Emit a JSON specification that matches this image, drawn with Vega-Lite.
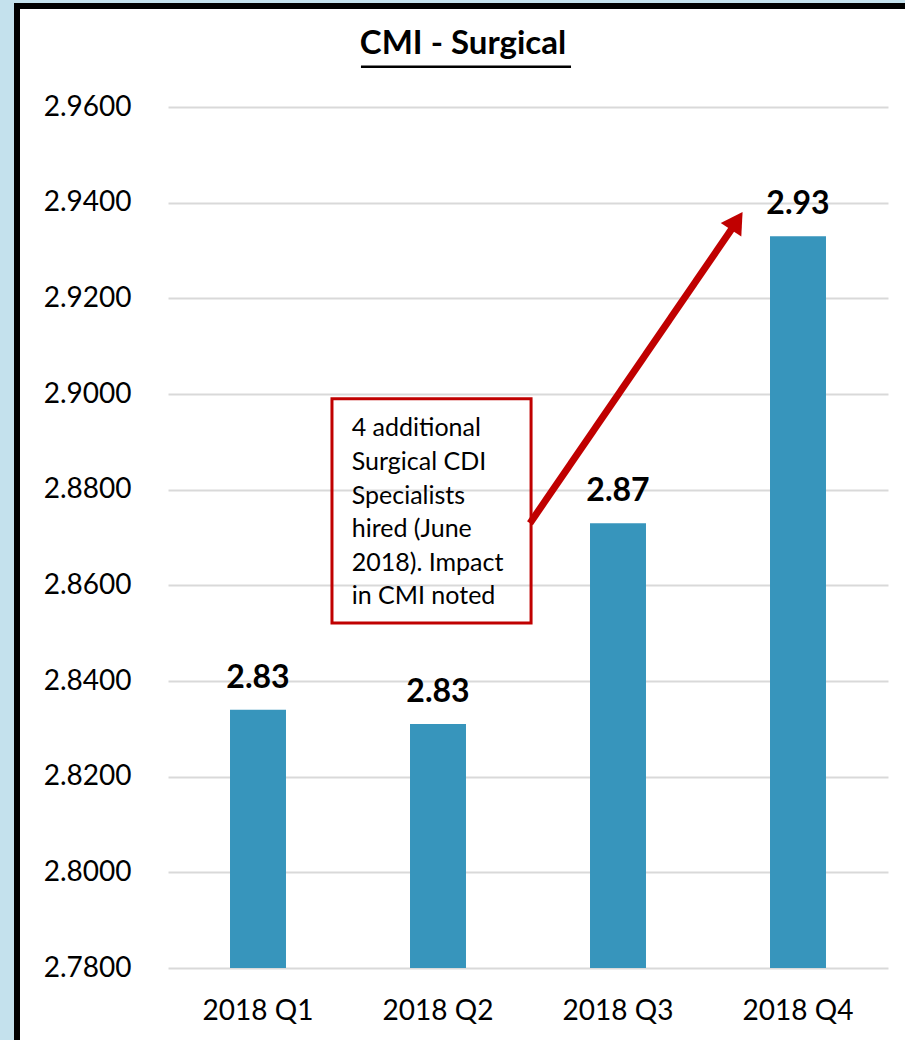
{
  "$schema": "https://vega.github.io/schema/vega-lite/v6.json",
  "autosize": {"type": "none"},
  "width": 892,
  "height": 1038,
  "padding": {"left": 17, "top": 6, "right": -4, "bottom": -4},
  "background": "#c4e1ed",
  "config": {
    "view": {"fill": "white", "stroke": "black", "strokeWidth": 6},
    "font": "Lato"
  },
  "title": {
    "text": "CMI - Surgical",
    "font": "Lato",
    "fontWeight": "bold",
    "fontSize": 33,
    "color": "black",
    "anchor": "middle",
    "frame": "group",
    "baseline": "alphabetic",
    "offset": -81
  },
  "datasets": {
    "bars": [
      {"q": "2018 Q1", "v": 2.834},
      {"q": "2018 Q2", "v": 2.831},
      {"q": "2018 Q3", "v": 2.873},
      {"q": "2018 Q4", "v": 2.933}
    ],
    "box": [{"x": 1.411, "x2": 2.517, "v": 2.899, "v2": 2.8521}],
    "arrow": [{"x": 2.511, "x2": 3.639, "v": 2.873, "v2": 2.9349}],
    "head": [{"x": 3.66, "v": 2.9362}],
    "note": [{"x": 1.5206, "v": 2.8953, "text": "4 additional\nSurgical CDI\nSpecialists\nhired (June\n2018). Impact\nin CMI noted"}],
    "underline": [{"x": 1.572, "x2": 2.739, "v": 2.9684}]
  },
  "resolve": {"scale": {"x": "independent"}},
  "encoding": {
    "y": {
      "field": "v",
      "type": "quantitative",
      "scale": {"domain": [2.78, 2.96], "range": [962, 101], "nice": false, "zero": false},
      "axis": {
        "title": null,
        "orient": "left",
        "offset": -114,
        "domain": false,
        "ticks": false,
        "tickSize": 0,
        "labelPadding": 0,
        "labelAlign": "right",
        "labelFont": "Lato",
        "labelFontSize": 28,
        "labelColor": "black",
        "labelBaseline": "middle",
        "values": [2.78, 2.80, 2.82, 2.84, 2.86, 2.88, 2.90, 2.92, 2.94, 2.96],
        "format": ".4f",
        "grid": true,
        "gridColor": "#d9d9d9",
        "gridWidth": 2
      }
    }
  },
  "layer": [
    {
      "data": {"name": "bars"},
      "mark": {"type": "bar", "color": "#3795bc"},
      "encoding": {
        "x": {
          "field": "q",
          "type": "nominal",
          "sort": null,
          "scale": {"range": [151, 871], "paddingInner": 0.689, "paddingOuter": 0.3445},
          "axis": {
            "title": null,
            "orient": "bottom",
            "offset": -76,
            "domain": false,
            "ticks": false,
            "tickSize": 0,
            "labelPadding": 51,
            "labelBaseline": "alphabetic",
            "labelFont": "Lato",
            "labelFontSize": 28,
            "labelColor": "black",
            "labelAngle": 0,
            "grid": false
          }
        },
        "y2": {"datum": 2.78}
      }
    },
    {
      "data": {"name": "bars"},
      "mark": {"type": "text", "font": "Lato", "fontWeight": "bold", "fontSize": 32, "color": "black", "baseline": "alphabetic", "dy": -22},
      "encoding": {
        "x": {"field": "q", "type": "nominal", "sort": null, "scale": {"range": [151, 871], "paddingInner": 0.689, "paddingOuter": 0.3445}, "axis": null},
        "text": {"field": "v", "type": "quantitative", "format": ".2f"}
      }
    },
    {
      "data": {"name": "box"},
      "mark": {"type": "rect", "fill": null, "fillOpacity": 0, "stroke": "#c00000", "strokeWidth": 3},
      "encoding": {
        "x": {"field": "x", "type": "quantitative", "scale": {"domain": [0.5, 4.5], "range": [151, 871], "nice": false, "zero": false}, "axis": null},
        "x2": {"field": "x2"},
        "y2": {"field": "v2"}
      }
    },
    {
      "data": {"name": "note"},
      "mark": {"type": "text", "font": "Lato", "fontSize": 25, "color": "black", "align": "left", "baseline": "top", "lineBreak": "\n", "lineHeight": 33.6},
      "encoding": {
        "x": {"field": "x", "type": "quantitative", "scale": {"domain": [0.5, 4.5], "range": [151, 871], "nice": false, "zero": false}, "axis": null},
        "text": {"field": "text", "type": "nominal"}
      }
    },
    {
      "data": {"name": "arrow"},
      "mark": {"type": "rule", "color": "#c00000", "strokeWidth": 7},
      "encoding": {
        "x": {"field": "x", "type": "quantitative", "scale": {"domain": [0.5, 4.5], "range": [151, 871], "nice": false, "zero": false}, "axis": null},
        "x2": {"field": "x2"},
        "y2": {"field": "v2"}
      }
    },
    {
      "data": {"name": "head"},
      "mark": {"type": "point", "shape": "triangle-up", "filled": true, "color": "#c00000", "opacity": 1, "size": 600, "angle": 33},
      "encoding": {
        "x": {"field": "x", "type": "quantitative", "scale": {"domain": [0.5, 4.5], "range": [151, 871], "nice": false, "zero": false}, "axis": null}
      }
    },
    {
      "data": {"name": "underline"},
      "mark": {"type": "rule", "color": "black", "strokeWidth": 2.5},
      "encoding": {
        "x": {"field": "x", "type": "quantitative", "scale": {"domain": [0.5, 4.5], "range": [151, 871], "nice": false, "zero": false}, "axis": null},
        "x2": {"field": "x2"}
      }
    }
  ]
}
